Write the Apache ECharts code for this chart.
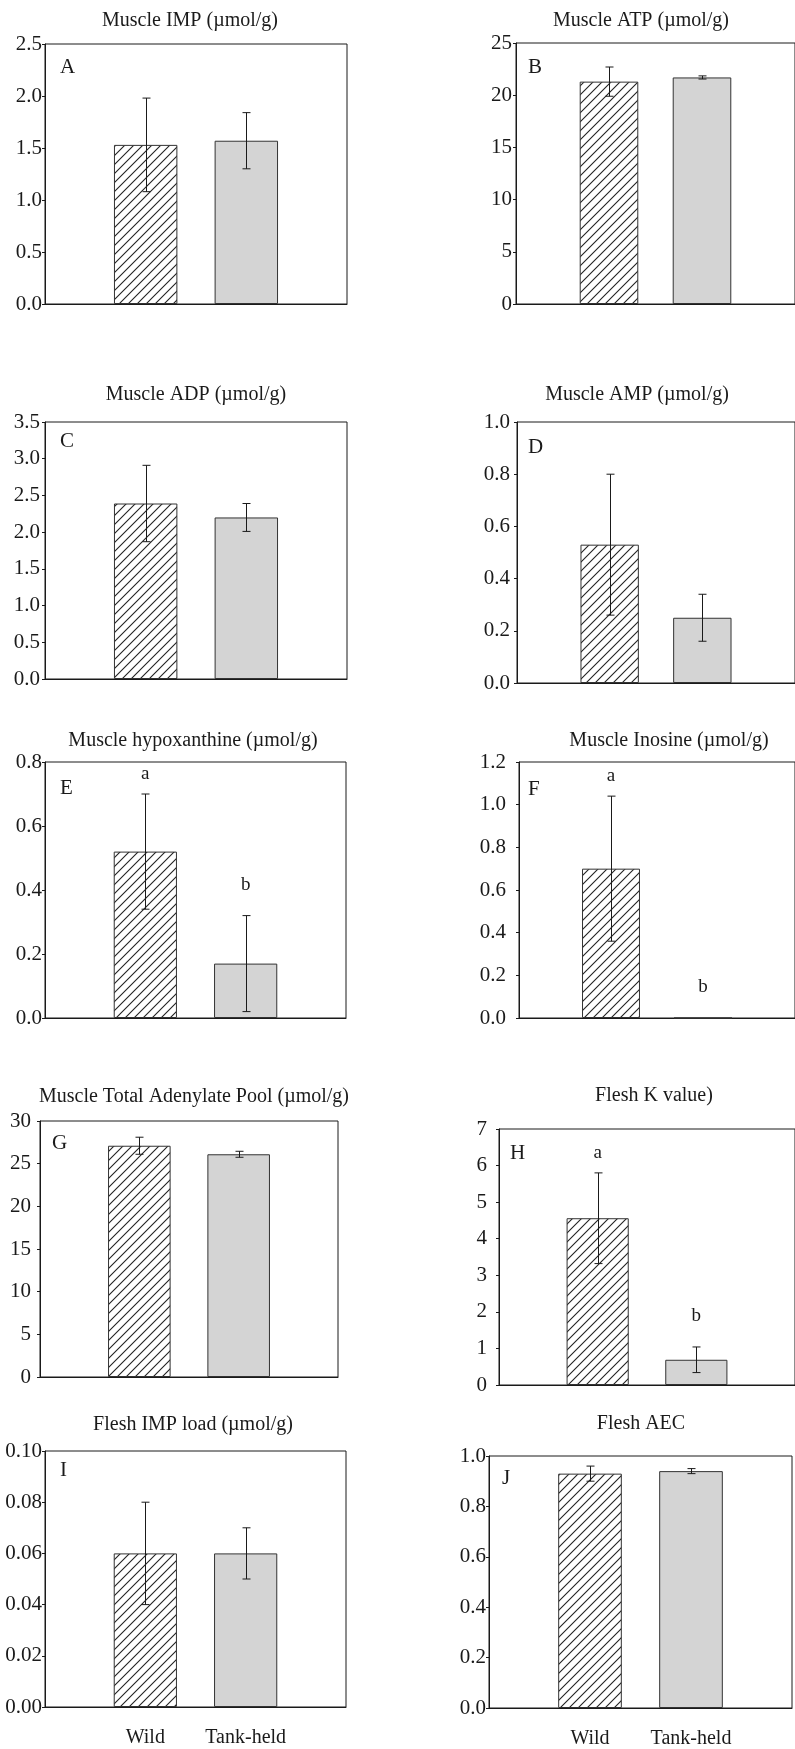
<!DOCTYPE html>
<html>
<head>
<meta charset="utf-8">
<script src="https://cdn.jsdelivr.net/npm/echarts@6/dist/echarts.min.js"></script>
<style>
  body { margin: 0; background: #fff; }
  #chart { width: 795px; height: 1749px; }
</style>
</head>
<body>
<div id="chart"></div>
<script>
// 2 groups, placed at category 1 and 2 of a 4-slot axis (gives the 1/3, 2/3 spacing)
const categories = ['', 'Wild', 'Tank-held', ''];

// means and SD (Wild, Tank-held)
const impMean = [1.53, 1.57];
const impSd = [0.45, 0.27];
const atpMean = [21.3, 21.7];
const atpSd = [1.4, 0.15];
const adpMean = [2.39, 2.2];
const adpSd = [0.52, 0.19];
const ampMean = [0.53, 0.25];
const ampSd = [0.27, 0.09];
const hxMean = [0.52, 0.17];
const hxSd = [0.18, 0.15];
const inoMean = [0.7, 0];
const inoSd = [0.34, 0];
const poolMean = [27.1, 26.1];
const poolSd = [1.0, 0.35];
const kMean = [4.56, 0.69];
const kSd = [1.24, 0.35];
const impLoadMean = [0.06, 0.06];
const impLoadSd = [0.02, 0.01];
const aecMean = [0.93, 0.94];
const aecSd = [0.03, 0.01];

// significance letters
const hxSig = ['a', 'b'];
const inoSig = ['a', 'b'];
const kSig = ['a', 'b'];

const FONT = "'Liberation Serif', 'Times New Roman', serif";
const INK = '#1a1a1a';

const panels = [
  { letter: 'A', title: 'Muscle IMP (µmol/g)', mean: impMean, sd: impSd, max: 2.5, step: 0.5, dec: 1,
    grid: { left: 45, top: 44, width: 302, height: 260 }, titleAt: [190, 21], letterAt: [60, 67], margin: 3 },
  { letter: 'B', title: 'Muscle ATP (µmol/g)', mean: atpMean, sd: atpSd, max: 25, step: 5, dec: 0,
    grid: { left: 516, top: 43, width: 302, height: 261 }, titleAt: [641, 21], letterAt: [528, 67], margin: 4 },
  { letter: 'C', title: 'Muscle ADP (µmol/g)', mean: adpMean, sd: adpSd, max: 3.5, step: 0.5, dec: 1,
    grid: { left: 45, top: 422, width: 302, height: 257 }, titleAt: [196, 395], letterAt: [60, 441], margin: 5 },
  { letter: 'D', title: 'Muscle AMP (µmol/g)', mean: ampMean, sd: ampSd, max: 1.0, step: 0.2, dec: 1,
    grid: { left: 517, top: 422, width: 300, height: 261 }, titleAt: [637, 395], letterAt: [528, 447], margin: 7 },
  { letter: 'E', title: 'Muscle hypoxanthine (µmol/g)', mean: hxMean, sd: hxSd, sig: hxSig, max: 0.8, step: 0.2, dec: 1,
    grid: { left: 45, top: 762, width: 301, height: 256 }, titleAt: [193, 741], letterAt: [60, 788], margin: 3 },
  { letter: 'F', title: 'Muscle Inosine (µmol/g)', mean: inoMean, sd: inoSd, sig: inoSig, max: 1.2, step: 0.2, dec: 1,
    grid: { left: 519, top: 762, width: 296, height: 256 }, titleAt: [669, 741], letterAt: [528, 789], margin: 13 },
  { letter: 'G', title: 'Muscle Total Adenylate Pool (µmol/g)', mean: poolMean, sd: poolSd, max: 30, step: 5, dec: 0,
    grid: { left: 40, top: 1121, width: 298, height: 256 }, titleAt: [194, 1097], letterAt: [52, 1143], margin: 9 },
  { letter: 'H', title: 'Flesh K value)', mean: kMean, sd: kSd, sig: kSig, max: 7, step: 1, dec: 0,
    grid: { left: 499, top: 1129, width: 298, height: 256 }, titleAt: [654, 1096], letterAt: [510, 1153], margin: 12 },
  { letter: 'I', title: 'Flesh IMP load (µmol/g)', mean: impLoadMean, sd: impLoadSd, max: 0.1, step: 0.02, dec: 2,
    grid: { left: 45, top: 1451, width: 301, height: 256 }, titleAt: [193, 1425], letterAt: [60, 1470], margin: 3, xLabels: true },
  { letter: 'J', title: 'Flesh AEC', mean: aecMean, sd: aecSd, max: 1.0, step: 0.2, dec: 1,
    grid: { left: 489, top: 1456, width: 308, height: 258 }, titleAt: [641, 1424], letterAt: [502, 1478], margin: 3, xLabels: true },
];

// diagonal "/" hatch tile
function makeHatch() {
  const s = 9;
  const c = document.createElement('canvas');
  c.width = s;
  c.height = s;
  const g = c.getContext('2d');
  g.fillStyle = '#fff';
  g.fillRect(0, 0, s, s);
  g.strokeStyle = '#222';
  g.lineWidth = 1.1;
  g.beginPath();
  g.moveTo(0, s); g.lineTo(s, 0);
  g.moveTo(-1, 1); g.lineTo(1, -1);
  g.moveTo(s - 1, s + 1); g.lineTo(s + 1, s - 1);
  g.stroke();
  return c;
}
const hatch = { image: makeHatch(), repeat: 'repeat' };

const grids = [], xAxes = [], yAxes = [], series = [], graphics = [];

panels.forEach((p, i) => {
  grids.push(Object.assign({ show: true, borderColor: INK, borderWidth: 1, backgroundColor: 'transparent' }, p.grid));

  xAxes.push({
    gridIndex: i,
    type: 'category',
    data: categories,
    boundaryGap: false,
    axisLine: { show: true, lineStyle: { color: INK, width: 1 } },
    axisTick: { show: false },
    axisLabel: { show: !!p.xLabels, interval: 0, margin: 21, fontFamily: FONT, fontSize: 20, color: INK },
    splitLine: { show: false },
  });

  yAxes.push({
    gridIndex: i,
    type: 'value',
    min: 0,
    max: p.max,
    interval: p.step,
    axisLine: { show: true, lineStyle: { color: INK, width: 1 } },
    axisTick: { show: true, inside: false, length: 3, lineStyle: { color: INK } },
    axisLabel: { margin: p.margin, fontFamily: FONT, fontSize: 21, color: INK,
      formatter: (v) => v.toFixed(p.dec) },
    splitLine: { show: false },
  });

  series.push({
    type: 'bar',
    xAxisIndex: i,
    yAxisIndex: i,
    barWidth: '63%',
    data: p.mean.map((m, k) => ({
      value: [k + 1, m],
      itemStyle: k === 0
        ? { color: hatch, borderColor: '#333', borderWidth: 1 }
        : { color: '#d4d4d4', borderColor: '#333', borderWidth: 1 },
    })),
    silent: true,
  });

  // error bars
  series.push({
    type: 'custom',
    xAxisIndex: i,
    yAxisIndex: i,
    z: 5,
    silent: true,
    data: p.mean.map((m, k) => [k + 1, m - p.sd[k], m + p.sd[k]]),
    renderItem: (params, api) => {
      const lo = api.coord([api.value(0), api.value(1)]);
      const hi = api.coord([api.value(0), api.value(2)]);
      if (Math.abs(lo[1] - hi[1]) < 0.5) return null;
      const x = Math.round(lo[0]) + 0.5;
      const st = { stroke: INK, lineWidth: 1 };
      return {
        type: 'group',
        children: [
          { type: 'line', shape: { x1: x, y1: lo[1], x2: x, y2: hi[1] }, style: st },
          { type: 'line', shape: { x1: x - 4, y1: lo[1], x2: x + 4, y2: lo[1] }, style: st },
          { type: 'line', shape: { x1: x - 4, y1: hi[1], x2: x + 4, y2: hi[1] }, style: st },
        ],
      };
    },
  });

  if (p.sig) {
    series.push({
      type: 'custom',
      xAxisIndex: i,
      yAxisIndex: i,
      z: 6,
      silent: true,
      data: p.mean.map((m, k) => [k + 1, m + p.sd[k]]),
      renderItem: (params, api) => {
        const pt = api.coord([api.value(0), api.value(1)]);
        const s = p.sig[params.dataIndex];
        return {
          type: 'text',
          x: pt[0],
          y: pt[1] - (s === 'a' ? 20 : 31),
          style: { text: s, fontFamily: FONT, fontSize: 19, fill: INK, align: 'center', verticalAlign: 'middle' },
        };
      },
    });
  }

  graphics.push({
    type: 'text', x: p.titleAt[0], y: p.titleAt[1], silent: true,
    style: { text: p.title, fontFamily: FONT, fontSize: 20, fill: INK, align: 'center', verticalAlign: 'middle' },
  });
  graphics.push({
    type: 'text', x: p.letterAt[0], y: p.letterAt[1], silent: true,
    style: { text: p.letter, fontFamily: FONT, fontSize: 21, fill: INK, align: 'left', verticalAlign: 'middle' },
  });
});

// the source figure is cropped through the x labels
graphics.push({
  type: 'rect', silent: true, z: 100,
  shape: { x: 0, y: 1744, width: 795, height: 10 },
  style: { fill: '#fff' },
});

const myChart = echarts.init(document.getElementById('chart'), null, { renderer: 'canvas' });
myChart.setOption({
  animation: false,
  backgroundColor: '#fff',
  grid: grids,
  xAxis: xAxes,
  yAxis: yAxes,
  series: series,
  graphic: graphics,
});
</script>
</body>
</html>
